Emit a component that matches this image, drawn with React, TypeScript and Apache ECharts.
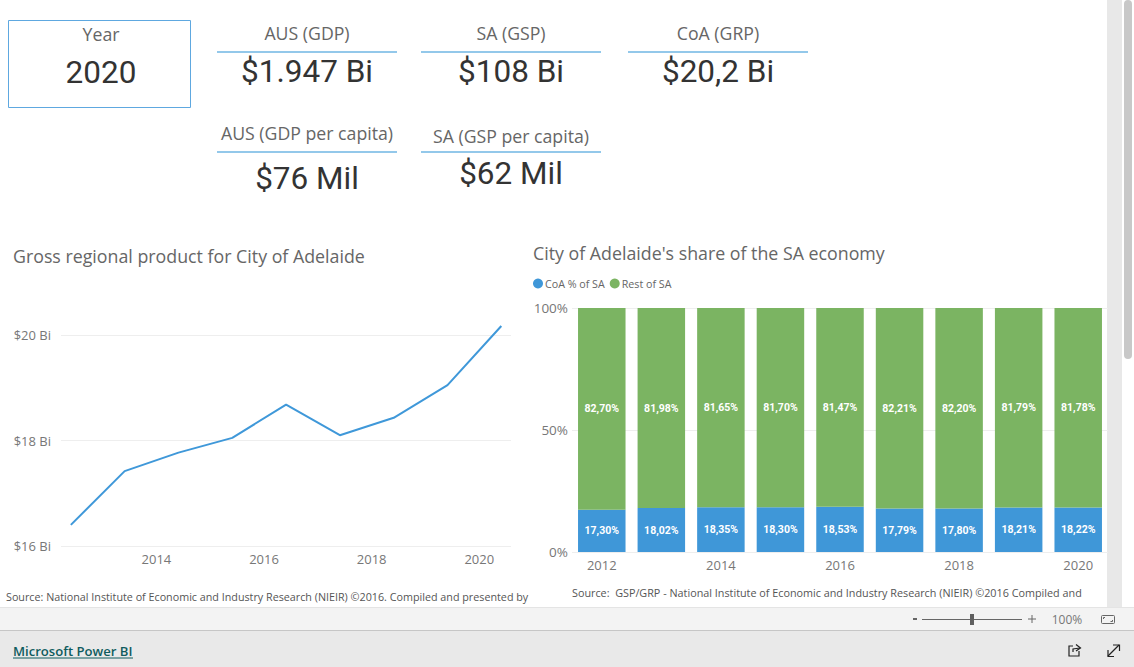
import React, { useEffect, useRef } from "react";
import * as echarts from "echarts";

const SEGOE = '"Open Sans", "Noto Sans", sans-serif';
const DIN = 'Roboto, "Noto Sans", sans-serif';

const gdpX = [2012.41, 2013.41, 2014.41, 2015.41, 2016.41, 2017.41, 2018.41, 2019.41, 2020.41];
const gdpValues = [16.4, 17.42, 17.77, 18.05, 18.68, 18.1, 18.43, 19.05, 20.17];
const gdpTicks = [2014, 2016, 2018, 2020];
const years = ["2012", "2013", "2014", "2015", "2016", "2017", "2018", "2019", "2020"];
const coaShare = [17.3, 18.02, 18.35, 18.3, 18.53, 17.79, 17.8, 18.21, 18.22];
const restShare = [82.7, 81.98, 81.65, 81.7, 81.47, 82.21, 82.2, 81.79, 81.78];

const kpiLabels = ["AUS (GDP)", "SA (GSP)", "CoA (GRP)", "AUS (GDP per capita)", "SA (GSP per capita)"];
const kpiValues = ["$1.947 Bi", "$108 Bi", "$20,2 Bi", "$76 Mil", "$62 Mil"];
const kpiCx = [307, 511, 718, 307, 511];
const kpiLabelY = [33, 33, 33, 133, 136];
const kpiRuleY = [52, 52, 52, 152, 152];
const kpiValueY = [71, 71, 71, 178, 173];
const lineTitle = "Gross regional product for City of Adelaide";
const barTitle = "City of Adelaide's share of the SA economy";
const lineSource = "Source: National Institute of Economic and Industry Research (NIEIR) ©2016. Compiled and presented by";
const barSource = "Source:  GSP/GRP - National Institute of Economic and Industry Research (NIEIR) ©2016 Compiled and";

const pct = (v: number) => v.toFixed(2).replace(".", ",") + "%";

function txt(x: number, y: number, text: string, size: number, fill: string, family = SEGOE, align = "center", weight: any = "normal") {
  return { type: "text", x, y, silent: true, style: { text, fontSize: size, fontFamily: family, fill, align, verticalAlign: "middle", fontWeight: weight } };
}
function rect(x: number, y: number, width: number, height: number, fill: string, r?: any) {
  return { type: "rect", silent: true, shape: { x, y, width, height, r: r ?? 0 }, style: { fill } };
}
function seg(x1: number, y1: number, x2: number, y2: number, stroke: string, lineWidth = 1) {
  return { type: "line", silent: true, shape: { x1, y1, x2, y2 }, style: { stroke, lineWidth } };
}
function poly(points: number[][], stroke: string, lineWidth = 1.2) {
  return { type: "polyline", silent: true, shape: { points }, style: { stroke, lineWidth, fill: "none" } };
}

export default function App() {
  const ref = useRef<HTMLDivElement>(null);
  useEffect(() => {
    const chart = echarts.init(ref.current!, undefined, { renderer: "svg" });
    const graphic: any[] = [
      // page chrome
      rect(1107, 0, 15, 608, "#e8e8e8"),
      rect(1124, 0, 8, 359, "#c8c8c8", 4),
      rect(0, 608, 1134, 22, "#f3f3f3"),
      rect(0, 607, 1134, 1, "#e4e4e4"),
      rect(0, 630, 1134, 37, "#e9e9e9"),
      rect(0, 630, 1134, 1, "#c6c6c6"),
      // year card
      { type: "rect", silent: true, shape: { x: 8.5, y: 20.5, width: 182, height: 87 }, style: { fill: "none", stroke: "#5ea8e0", lineWidth: 1 } },
      txt(101, 34, "Year", 17.7, "#666666"),
      txt(101, 72, "2020", 31.5, "#333333", DIN),
      // sources
      txt(6, 597, lineSource, 10.75, "#555555", SEGOE, "left"),
      txt(572, 592, barSource, 10.8, "#555555", SEGOE, "left"),
      // titles
      txt(13, 256, lineTitle, 17.8, "#666666", SEGOE, "left"),
      txt(533, 253, barTitle, 17.8, "#666666", SEGOE, "left"),
      // footer
      txt(13, 651, "Microsoft Power BI", 13.1, "#0f5c5e", SEGOE, "left", 600),
      seg(13, 658, 133, 658, "#0f5c5e", 1),
      seg(913, 619, 917, 619, "#666666", 2),
      seg(922, 619.5, 1022, 619.5, "#666666", 1),
      rect(970, 614, 4, 11, "#5f5f5f"),
      seg(1028, 619, 1036, 619, "#666666", 1),
      seg(1032, 615, 1032, 623, "#666666", 1),
      txt(1067, 619, "100%", 12, "#777777"),
      { type: "rect", silent: true, shape: { x: 1101.5, y: 615.5, width: 13, height: 8, r: 1 }, style: { fill: "none", stroke: "#666666", lineWidth: 1 } },
      poly([[1105, 617.5], [1103.5, 617.5], [1103.5, 619]], "#666666", 1),
      poly([[1110.5, 621.5], [1112.5, 621.5], [1112.5, 620]], "#666666", 1),
      // share icon
      poly([[1073, 646], [1069, 646], [1069, 656], [1079, 656], [1079, 651]], "#222222"),
      poly([[1073, 652], [1073, 649], [1080, 648]], "#222222"),
      poly([[1076, 644.5], [1080.5, 648], [1076, 651]], "#222222"),
      // expand icon
      seg(1108, 656, 1119, 645, "#222222", 1.2),
      poly([[1113, 645], [1119.5, 645], [1119.5, 651]], "#222222"),
      poly([[1108, 650], [1108, 656.5], [1114, 656.5]], "#222222"),
    ];
    kpiLabels.forEach((label, i) => {
      graphic.push(txt(kpiCx[i], kpiLabelY[i], label, 17.7, "#666666"));
      graphic.push(seg(kpiCx[i] - 90, kpiRuleY[i], kpiCx[i] + 90, kpiRuleY[i], "#93c8ea", 2));
      graphic.push(txt(kpiCx[i], kpiValueY[i], kpiValues[i], 31.5, "#333333", DIN));
    });

    const axisText = { color: "#777777", fontFamily: SEGOE, fontSize: 13 };
    const barLabel = { show: true, position: "inside", color: "#ffffff", fontSize: 10.5, fontWeight: "bold", fontFamily: DIN, formatter: (p: any) => pct(p.value) };
    chart.setOption({
      animation: false,
      graphic: { elements: graphic },
      legend: {
        left: 528, top: 273, icon: "circle", itemWidth: 10, itemHeight: 10, itemGap: 5,
        data: ["CoA % of SA", "Rest of SA"], selectedMode: false,
        textStyle: { color: "#666666", fontSize: 10.7, fontFamily: SEGOE, padding: [0, 0, 0, -3] },
      },
      grid: [
        { left: 61, width: 450, top: 335, height: 211 },
        { left: 572, width: 536, top: 308, height: 244 },
      ],
      xAxis: [
        {
          type: "value", gridIndex: 0, min: 2012.227, max: 2020.59,
          axisLine: { show: false }, axisTick: { show: false }, splitLine: { show: false },
          axisLabel: { ...axisText, margin: 6, customValues: gdpTicks, formatter: (v: number) => String(Math.round(v)) },
        },
        {
          type: "category", gridIndex: 1, data: years,
          axisLine: { show: false }, axisTick: { show: false },
          axisLabel: { ...axisText, margin: 6, interval: 1 },
        },
      ],
      yAxis: [
        {
          type: "value", gridIndex: 0, min: 16, max: 20, interval: 2,
          axisLine: { show: false }, axisTick: { show: false },
          splitLine: { lineStyle: { color: "#eeeeee" } },
          axisLabel: { ...axisText, margin: 10, formatter: "${value} Bi" },
        },
        {
          type: "value", gridIndex: 1, min: 0, max: 100, interval: 50,
          axisLine: { show: false }, axisTick: { show: false },
          splitLine: { lineStyle: { color: "#eeeeee" } },
          axisLabel: { ...axisText, fontSize: 13.5, margin: 4, formatter: "{value}%" },
        },
      ],
      series: [
        {
          name: "CoA GRP", type: "line", xAxisIndex: 0, yAxisIndex: 0, clip: false, showSymbol: false, symbol: "none",
          lineStyle: { color: "#3f98d9", width: 2 }, itemStyle: { color: "#3f98d9" },
          data: gdpX.map((x, i) => [x, gdpValues[i]]),
        },
        {
          name: "CoA % of SA", type: "bar", stack: "s", xAxisIndex: 1, yAxisIndex: 1, barWidth: 47.5,
          itemStyle: { color: "#3f97d8" }, data: coaShare, label: barLabel,
        },
        {
          name: "Rest of SA", type: "bar", stack: "s", xAxisIndex: 1, yAxisIndex: 1, barWidth: 47.5,
          itemStyle: { color: "#7bb462" }, data: restShare, label: barLabel,
        },
      ],
    });
    return () => chart.dispose();
  }, []);
  return <div ref={ref} style={{ position: "absolute", left: 0, top: 0, width: 1134, height: 667 }} />;
}
